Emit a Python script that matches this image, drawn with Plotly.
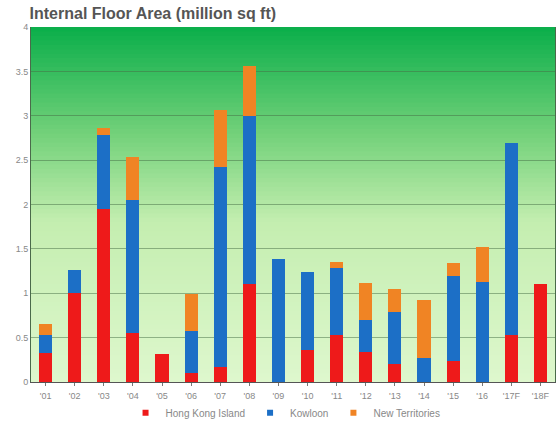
import plotly.graph_objects as go

# Completion years ('F' = forecast)
years = ["'01", "'02", "'03", "'04", "'05", "'06", "'07", "'08", "'09",
         "'10", "'11", "'12", "'13", "'14", "'15", "'16", "'17F", "'18F"]

# Internal floor area by district, million sq ft
hong_kong_island = [0.33, 1.00, 1.95, 0.55, 0.32, 0.10, 0.17, 1.10, 0.00,
                    0.36, 0.53, 0.34, 0.20, 0.00, 0.24, 0.00, 0.53, 1.10]
kowloon = [0.20, 0.26, 0.83, 1.50, 0.00, 0.48, 2.25, 1.90, 1.39,
           0.88, 0.75, 0.36, 0.59, 0.27, 0.95, 1.13, 2.16, 0.00]
new_territories = [0.12, 0.00, 0.08, 0.49, 0.00, 0.41, 0.65, 0.56, 0.00,
                   0.00, 0.07, 0.42, 0.26, 0.65, 0.15, 0.39, 0.00, 0.00]

series = [
    ("Hong Kong Island", hong_kong_island, "#ee1a1a"),
    ("Kowloon", kowloon, "#1c6fc6"),
    ("New Territories", new_territories, "#f08424"),
]

fig = go.Figure()
for name, vals, color in series:
    fig.add_trace(go.Bar(
        x=years, y=vals, name=name, showlegend=False,
        marker=dict(color=color, line=dict(width=0)),
        width=0.45,
    ))

# Legend entries with small square swatches
for name, _, color in series:
    fig.add_trace(go.Scatter(
        x=[None], y=[None], mode="markers", name=name,
        marker=dict(symbol="square", size=6, color=color),
    ))

# Vertical green gradient behind the plot area, built from thin strips
stops = [(0.0, (222, 247, 205)), (0.45, (196, 238, 176)),
         (0.7, (115, 209, 122)), (1.0, (10, 174, 74))]


def grad(t):
    for (t0, c0), (t1, c1) in zip(stops[:-1], stops[1:]):
        if t0 <= t <= t1:
            f = (t - t0) / (t1 - t0)
            return tuple(round(a + (b - a) * f) for a, b in zip(c0, c1))
    return stops[-1][1]


n_strips = 80
shapes = []
for i in range(n_strips):
    y0 = i / n_strips
    y1 = (i + 1) / n_strips + 0.002
    r, g, b = grad((i + 0.5) / n_strips)
    shapes.append(dict(type="rect", xref="paper", yref="paper",
                       x0=0, x1=1, y0=y0, y1=min(y1, 1),
                       fillcolor=f"rgb({r},{g},{b})",
                       line=dict(width=0), layer="below"))

fig.update_layout(
    width=558, height=422,
    margin=dict(l=31, r=3, t=27, b=40, autoexpand=False),
    paper_bgcolor="white",
    plot_bgcolor="rgba(0,0,0,0)",
    barmode="stack",
    shapes=shapes,
    font=dict(family="Liberation Sans, Arial, sans-serif", color="#777777", size=9),
    title=dict(text="<b>Internal Floor Area (million sq ft)</b>",
               x=0.053, xref="container", xanchor="left",
               y=0.968, yref="container", yanchor="middle",
               font=dict(size=16, color="#555555",
                         family="Liberation Sans, Arial, sans-serif")),
    legend=dict(orientation="h", x=0.225, xanchor="left", xref="container",
                y=0.022, yref="container", yanchor="middle",
                traceorder="normal",
                font=dict(size=10, color="#888888"),
                itemwidth=30, tracegroupgap=0,
                bgcolor="rgba(0,0,0,0)"),
    xaxis=dict(showgrid=False, showline=True, linecolor="#555555", linewidth=1,
               ticks="outside", ticklen=3, tickcolor="#777777",
               ticklabelstandoff=2,
               tickfont=dict(size=9, color="#888888"), mirror=False),
    yaxis=dict(range=[0, 4], dtick=0.5, showgrid=True,
               gridcolor="rgba(70,110,70,0.5)", gridwidth=1,
               showline=True, linecolor="#4a6a4a", linewidth=1, mirror=True,
               ticks="", tickfont=dict(size=9, color="#888888"),
               zeroline=False),
)

fig.write_html("out.html")
